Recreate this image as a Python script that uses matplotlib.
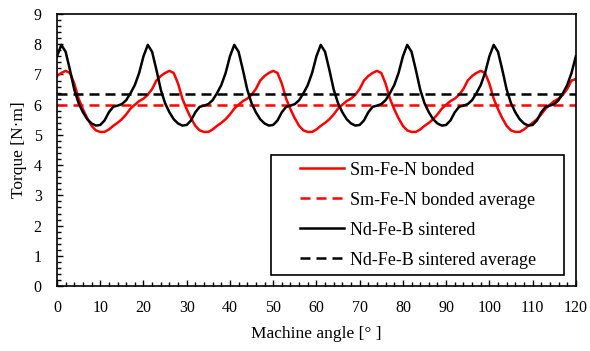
import numpy as np
import matplotlib
matplotlib.use("Agg")
import matplotlib.pyplot as plt
from matplotlib.ticker import MultipleLocator
from matplotlib.patches import Rectangle

plt.rcParams['font.family'] = ['Liberation Serif', 'DejaVu Serif']

# machine angle in degrees (1 deg steps)
angle = list(range(0, 121))

# Sm-Fe-N bonded torque [N m]
smfen = [6.95, 7.05, 7.12, 7.05, 6.7, 6.2, 5.85, 5.55, 5.3, 5.15, 5.1, 5.1, 5.18, 5.3, 5.4, 5.52, 5.68, 5.87, 6.0, 6.12, 6.2, 6.33, 6.52, 6.8,
         6.95, 7.05, 7.12, 7.05, 6.7, 6.2, 5.85, 5.55, 5.3, 5.15, 5.1, 5.1, 5.18, 5.3, 5.4, 5.52, 5.68, 5.87, 6.0, 6.12, 6.2, 6.33, 6.52, 6.8,
         6.95, 7.05, 7.12, 7.05, 6.7, 6.2, 5.85, 5.55, 5.3, 5.15, 5.1, 5.1, 5.18, 5.3, 5.4, 5.52, 5.68, 5.87, 6.0, 6.12, 6.2, 6.33, 6.52, 6.8,
         6.95, 7.05, 7.12, 7.05, 6.7, 6.2, 5.85, 5.55, 5.3, 5.15, 5.1, 5.1, 5.18, 5.3, 5.4, 5.52, 5.68, 5.87, 6.0, 6.12, 6.2, 6.33, 6.52, 6.8,
         6.95, 7.05, 7.12, 7.05, 6.7, 6.2, 5.85, 5.55, 5.3, 5.15, 5.1, 5.1, 5.18, 5.3, 5.4, 5.52, 5.68, 5.87, 6.0, 6.12, 6.2, 6.33, 6.52, 6.8,
         6.85]

# Nd-Fe-B sintered torque [N m]
ndfeb = [7.6, 7.98, 7.75, 7.15, 6.5, 6.05, 5.75, 5.52, 5.38, 5.31, 5.33, 5.48, 5.75, 5.93, 5.97, 6.02, 6.15, 6.38, 6.65, 7.05,
         7.6, 7.98, 7.75, 7.15, 6.5, 6.05, 5.75, 5.52, 5.38, 5.31, 5.33, 5.48, 5.75, 5.93, 5.97, 6.02, 6.15, 6.38, 6.65, 7.05,
         7.6, 7.98, 7.75, 7.15, 6.5, 6.05, 5.75, 5.52, 5.38, 5.31, 5.33, 5.48, 5.75, 5.93, 5.97, 6.02, 6.15, 6.38, 6.65, 7.05,
         7.6, 7.98, 7.75, 7.15, 6.5, 6.05, 5.75, 5.52, 5.38, 5.31, 5.33, 5.48, 5.75, 5.93, 5.97, 6.02, 6.15, 6.38, 6.65, 7.05,
         7.6, 7.98, 7.75, 7.15, 6.5, 6.05, 5.75, 5.52, 5.38, 5.31, 5.33, 5.48, 5.75, 5.93, 5.97, 6.02, 6.15, 6.38, 6.65, 7.05,
         7.6, 7.98, 7.75, 7.15, 6.5, 6.05, 5.75, 5.52, 5.38, 5.31, 5.33, 5.48, 5.75, 5.93, 5.97, 6.02, 6.15, 6.38, 6.65, 7.05,
         7.6]

smfen_avg = 6.0
ndfeb_avg = 6.35
avg_x = [0, 120]

fig = plt.figure(figsize=(5.9, 3.51), dpi=100)
ax = fig.add_axes([0.0966, 0.185, 0.8794, 0.775])

dash = (0, (4, 2.4))
ax.plot(angle, smfen, color='#ff0000', lw=1.8, label='Sm-Fe-N bonded')
ax.plot(avg_x, [smfen_avg, smfen_avg], color='#ff0000', lw=1.8, ls=dash, label='Sm-Fe-N bonded average')
ax.plot(angle, ndfeb, color='black', lw=1.8, label='Nd-Fe-B sintered')
ax.plot(avg_x, [ndfeb_avg, ndfeb_avg], color='black', lw=1.8, ls=dash, label='Nd-Fe-B sintered average')

ax.set_xlim(0, 120)
ax.set_ylim(0, 9)
ax.xaxis.set_major_locator(MultipleLocator(10))
ax.xaxis.set_minor_locator(MultipleLocator(2))
ax.yaxis.set_major_locator(MultipleLocator(1))
ax.yaxis.set_minor_locator(MultipleLocator(0.2))
ax.tick_params(which='both', direction='in', top=False, right=False, width=1, labelsize=11.5)
ax.tick_params(which='major', length=4)
ax.tick_params(which='minor', length=3)
ax.tick_params(axis='x', pad=10)
ax.tick_params(axis='y', pad=11)
for s in ax.spines.values():
    s.set_linewidth(1.2)

ax.set_xlabel('Machine angle [\u00b0 ]', fontsize=12.5, labelpad=7)
ax.set_ylabel('Torque [N\u00b7m]', fontsize=12.5, labelpad=5)

# legend without its own frame, a plain box drawn behind it
leg = ax.legend(loc='center', bbox_to_anchor=(0.696, 0.261), fontsize=13, frameon=False,
                handlelength=2.4, labelspacing=0.72, handletextpad=0.35, borderpad=0)
ax.add_patch(Rectangle((0.412, 0.040), 0.565, 0.442, transform=ax.transAxes,
                       facecolor='white', edgecolor='black', lw=1.2, zorder=4))
leg.set_zorder(5)

fig.savefig('out.png', dpi=100)
